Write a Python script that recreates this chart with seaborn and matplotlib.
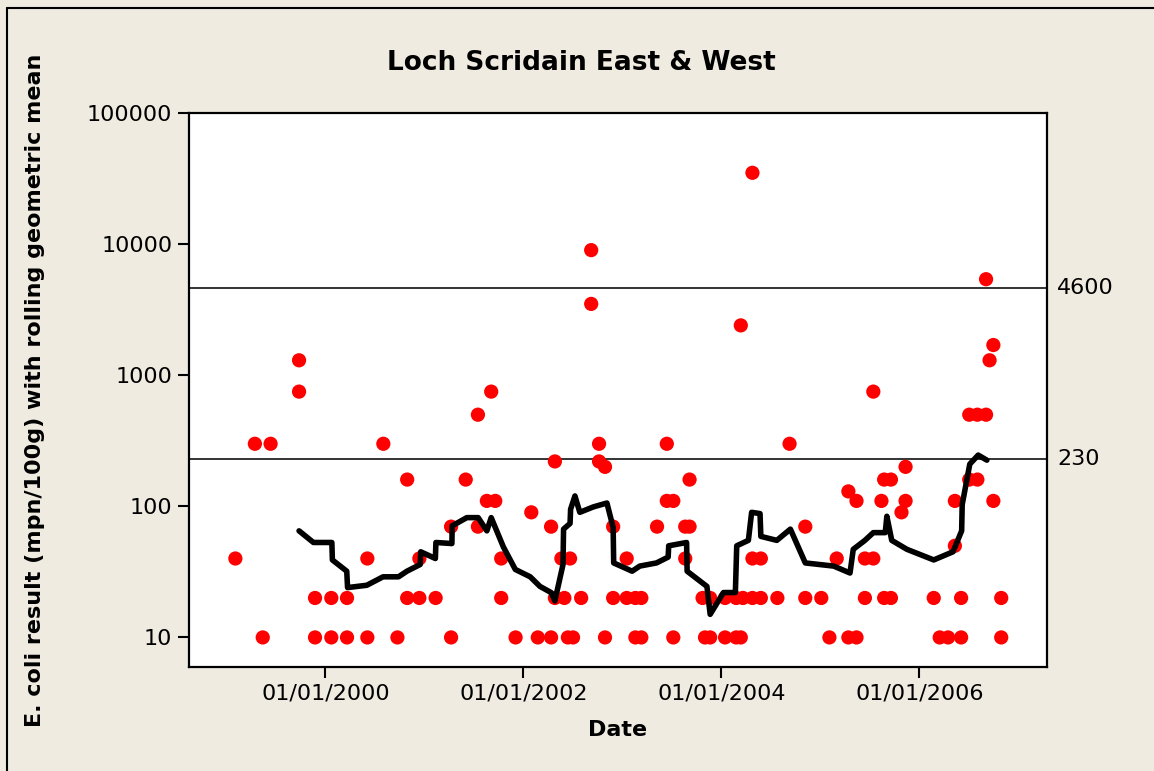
import pandas as pd
import numpy as np
import matplotlib
matplotlib.use('Agg')
import matplotlib.pyplot as plt
import matplotlib.dates as mdates
from matplotlib.ticker import FixedLocator, FixedFormatter, NullLocator
from matplotlib.lines import Line2D
import seaborn as sns

# E. coli sample results (mpn/100g)
sample_dates = [
    '1999-02-03', '1999-04-16', '1999-05-15', '1999-06-13', '1999-09-26', '1999-09-26',
    '1999-11-24', '1999-11-24', '2000-01-23', '2000-01-23', '2000-03-21', '2000-03-21',
    '2000-06-04', '2000-06-04', '2000-08-02', '2000-09-23', '2000-10-29', '2000-10-29',
    '2000-12-13', '2000-12-13', '2001-02-11', '2001-04-09', '2001-04-09', '2001-06-02',
    '2001-07-17', '2001-07-17', '2001-08-19', '2001-09-04', '2001-09-19', '2001-10-11',
    '2001-10-11', '2001-12-03', '2002-01-30', '2002-02-23', '2002-04-13', '2002-04-13',
    '2002-04-27', '2002-04-27', '2002-05-21', '2002-06-01', '2002-06-14', '2002-06-22',
    '2002-07-03', '2002-08-02', '2002-09-08', '2002-09-08', '2002-10-07', '2002-10-07',
    '2002-10-29', '2002-10-29', '2002-11-28', '2002-11-28', '2003-01-17', '2003-01-17',
    '2003-02-18', '2003-02-18', '2003-03-12', '2003-03-12', '2003-05-09', '2003-06-14',
    '2003-06-14', '2003-07-08', '2003-07-08', '2003-08-21', '2003-08-21', '2003-09-06',
    '2003-09-06', '2003-10-24', '2003-11-02', '2003-11-21', '2003-11-21', '2004-01-15',
    '2004-01-15', '2004-02-25', '2004-02-25', '2004-03-13', '2004-03-13', '2004-03-21',
    '2004-04-25', '2004-04-25', '2004-04-25', '2004-05-26', '2004-05-26', '2004-07-26',
    '2004-09-09', '2004-11-06', '2004-11-06', '2005-01-04', '2005-02-03', '2005-03-02',
    '2005-04-14', '2005-04-14', '2005-05-14', '2005-05-14', '2005-06-14', '2005-06-14',
    '2005-07-15', '2005-07-15', '2005-08-14', '2005-08-24', '2005-08-24', '2005-09-18',
    '2005-09-18', '2005-10-27', '2005-11-11', '2005-11-11', '2006-02-23', '2006-03-17',
    '2006-04-17', '2006-05-12', '2006-05-12', '2006-06-04', '2006-06-04', '2006-07-04',
    '2006-07-04', '2006-08-03', '2006-08-03', '2006-09-04', '2006-09-04', '2006-09-17',
    '2006-10-01', '2006-10-01', '2006-10-30', '2006-10-30',
]
sample_values = [
    40, 300, 10, 300, 1300, 750,
    20, 10, 20, 10, 20, 10,
    40, 10, 300, 10, 160, 20,
    40, 20, 20, 70, 10, 160,
    500, 70, 110, 750, 110, 40,
    20, 10, 90, 10, 10, 70,
    220, 20, 40, 20, 10, 40,
    10, 20, 9000, 3500, 300, 220,
    200, 10, 70, 20, 40, 20,
    20, 10, 20, 10, 70, 300,
    110, 110, 10, 40, 70, 160,
    70, 20, 10, 20, 10, 20,
    10, 20, 10, 10, 2400, 20,
    35000, 40, 20, 40, 20, 20,
    300, 70, 20, 20, 10, 40,
    130, 10, 110, 10, 20, 40,
    40, 750, 110, 160, 20, 160,
    20, 90, 200, 110, 20, 10,
    10, 110, 50, 20, 10, 500,
    160, 500, 160, 500, 5400, 1300,
    1700, 110, 20, 10,
]

# rolling geometric mean
mean_dates = [
    '1999-09-26', '1999-11-18', '2000-01-25', '2000-01-27', '2000-03-20', '2000-03-23',
    '2000-06-02', '2000-08-01', '2000-09-27', '2000-10-28', '2000-12-16', '2000-12-18',
    '2001-02-10', '2001-02-12', '2001-04-12', '2001-04-13', '2001-06-06', '2001-07-18',
    '2001-08-19', '2001-09-04', '2001-10-19', '2001-12-02', '2002-01-26', '2002-03-03',
    '2002-04-13', '2002-04-27', '2002-05-27', '2002-05-29', '2002-06-22', '2002-06-24',
    '2002-07-10', '2002-07-28', '2002-09-16', '2002-11-05', '2002-11-28', '2002-11-30',
    '2003-02-06', '2003-03-06', '2003-05-07', '2003-06-19', '2003-06-21', '2003-08-26',
    '2003-08-28', '2003-11-09', '2003-11-21', '2004-01-09', '2004-02-22', '2004-02-27',
    '2004-04-10', '2004-04-22', '2004-05-23', '2004-05-26', '2004-07-24', '2004-09-12',
    '2004-11-06', '2005-02-19', '2005-04-20', '2005-05-02', '2005-06-14', '2005-07-15',
    '2005-08-28', '2005-09-03', '2005-09-21', '2005-11-16', '2006-02-23', '2006-05-05',
    '2006-06-06', '2006-06-08', '2006-07-06', '2006-08-06', '2006-09-07',
]
mean_values = [
    65, 53, 53, 39, 32, 24,
    25, 29, 29, 32, 36, 45,
    40, 53, 52, 71, 82, 82,
    65, 82, 49, 33, 29, 24.5,
    22, 19, 36, 67, 74, 95,
    120, 90, 99, 106, 69, 37,
    32, 35, 37, 41, 50, 53,
    32, 24.5, 15, 22, 22, 50,
    55, 90, 88, 59, 55, 67,
    37, 35, 31, 47, 55, 63,
    63, 84, 55, 47, 39, 45,
    65, 103, 210, 246, 225,
]

limit_values = [4600, 230]
limit_labels = ['4600', '230']
tick_dates = ['2000-01-01', '2002-01-01', '2004-01-01', '2006-01-01']

samples = pd.DataFrame({'Date': pd.to_datetime(sample_dates), 'Ecoli': sample_values})
gmean = pd.DataFrame({'Date': pd.to_datetime(mean_dates), 'GM': mean_values})

sns.set_theme(style='white')
plt.rcParams['font.family'] = ['DejaVu Sans']
plt.rcParams['text.color'] = 'black'
plt.rcParams['axes.labelcolor'] = 'black'
bg = '#EFEBE1'

fig = plt.figure(figsize=(11.54, 7.71), dpi=100, facecolor=bg)
ax = fig.add_axes([0.1638, 0.1349, 0.7435, 0.7185])
ax.set_facecolor('white')

sns.scatterplot(data=samples, x='Date', y='Ecoli', ax=ax, color='#FF0000',
                s=105, edgecolor='none', linewidth=0, zorder=3)
sns.lineplot(data=gmean, x='Date', y='GM', ax=ax, color='black', lw=4,
             sort=False, estimator=None, zorder=4)

for v, lab in zip(limit_values, limit_labels):
    ax.axhline(v, color='#333333', lw=1.4, zorder=2)
    ax.text(1.012, v, lab, transform=ax.get_yaxis_transform(), ha='left',
            va='center', fontsize=16, color='black')

ax.set_yscale('log')
ax.set_ylim(5.95, 100000)
ax.yaxis.set_major_locator(FixedLocator([10, 100, 1000, 10000, 100000]))
ax.yaxis.set_major_formatter(FixedFormatter(['10', '100', '1000', '10000', '100000']))
ax.yaxis.set_minor_locator(NullLocator())

ax.set_xlim(pd.Timestamp('1998-08-16'), pd.Timestamp('2007-04-17'))
ax.set_xticks(pd.to_datetime(tick_dates))
ax.xaxis.set_major_formatter(mdates.DateFormatter('%d/%m/%Y'))

ax.tick_params(axis='both', which='major', direction='out', length=8, width=1.5,
               labelsize=16, colors='black', left=True, bottom=True, pad=4)
for sp in ax.spines.values():
    sp.set_visible(True)
    sp.set_color('black')
    sp.set_linewidth(1.6)

ax.set_xlabel('Date', fontsize=16, fontweight='bold', labelpad=12)
ax.set_ylabel('E. coli result (mpn/100g) with rolling geometric mean',
              fontsize=16, fontweight='bold', labelpad=30)
fig.text(0.504, 0.918, 'Loch Scridain East & West', ha='center', va='center',
         fontsize=19, fontweight='bold', color='black')

# frame around the chart area (top and left edges)
fig.add_artist(Line2D([7 / 1154, 1], [1 - 8 / 771, 1 - 8 / 771],
                      transform=fig.transFigure, color='black', lw=1.5))
fig.add_artist(Line2D([7 / 1154, 7 / 1154], [0, 1 - 8 / 771],
                      transform=fig.transFigure, color='black', lw=1.5))

fig.savefig('out.png', dpi=100, facecolor=bg)
